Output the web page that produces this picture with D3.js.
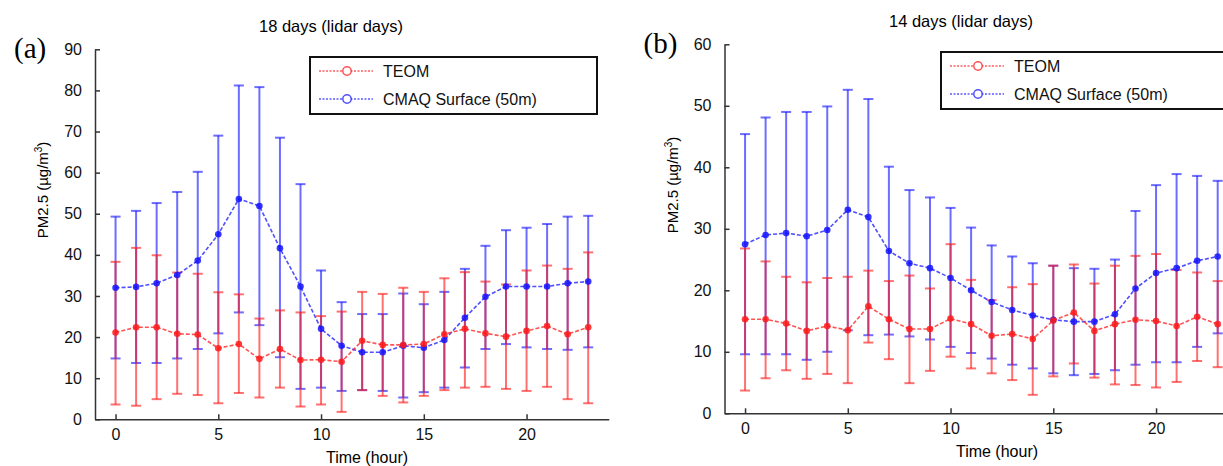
<!DOCTYPE html>
<html>
<head>
<meta charset="utf-8">
<script src="https://cdn.jsdelivr.net/npm/d3@7"></script>
<style>
  body { margin: 0; background: #fff; }
  svg { display: block; font-family: "Liberation Sans", Arial, sans-serif; }
</style>
</head>
<body>
<svg id="chart" width="1223" height="466"></svg>
<script>
// hours of the day
var hours = d3.range(0, 24);

// panel (a): 18 lidar days
var teomA      = [21.1, 22.4, 22.4, 20.8, 20.6, 17.3, 18.3, 14.7, 17.1, 14.4, 14.5, 14.0, 19.1, 18.1, 18.1, 18.3, 20.7, 22.0, 20.9, 20.1, 21.5, 22.7, 20.7, 22.4];
var teomAHigh  = [38.3, 41.7, 39.9, 35.7, 35.4, 30.9, 30.4, 24.5, 26.5, 26.0, 25.1, 26.2, 31.0, 30.5, 32.0, 31.0, 34.3, 35.8, 33.5, 32.8, 36.2, 37.4, 36.6, 40.6];
var teomALow   = [3.6, 3.3, 4.9, 6.2, 5.9, 3.9, 6.4, 5.3, 7.7, 3.1, 3.6, 1.8, 7.1, 5.7, 4.1, 5.7, 7.1, 7.7, 7.9, 7.4, 6.9, 7.9, 4.9, 3.9];
var cmaqA      = [32.0, 32.2, 33.1, 35.1, 38.6, 45.0, 53.6, 51.9, 41.6, 32.3, 22.0, 17.9, 16.3, 16.3, 17.9, 17.4, 19.3, 24.7, 29.8, 32.3, 32.3, 32.3, 33.1, 33.5];
var cmaqAHigh  = [49.3, 50.7, 52.6, 55.3, 60.2, 69.0, 81.2, 80.8, 68.5, 57.2, 36.2, 28.5, 25.6, 25.6, 30.6, 28.0, 31.0, 36.6, 42.2, 46.0, 46.6, 47.5, 49.3, 49.5];
var cmaqALow   = [14.8, 13.7, 13.7, 14.8, 17.1, 20.9, 26.0, 22.9, 15.1, 7.4, 7.7, 6.9, 7.1, 6.9, 5.3, 6.6, 7.7, 12.6, 17.1, 18.3, 17.5, 17.1, 16.9, 17.5];

// panel (b): 14 lidar days
var teomB      = [15.3, 15.3, 14.6, 13.4, 14.2, 13.5, 17.4, 15.3, 13.7, 13.7, 15.4, 14.5, 12.6, 12.9, 12.1, 15.1, 16.4, 13.4, 14.5, 15.2, 15.0, 14.2, 15.7, 14.5];
var teomBHigh  = [26.8, 24.7, 22.2, 21.3, 22.0, 22.2, 23.2, 21.5, 22.4, 20.3, 27.5, 21.7, 18.4, 20.5, 21.0, 24.0, 24.2, 21.1, 24.0, 25.6, 25.9, 23.3, 22.9, 21.5];
var teomBLow   = [3.7, 5.7, 7.0, 5.6, 6.4, 4.9, 11.5, 8.8, 4.9, 6.9, 9.2, 7.3, 6.5, 5.4, 3.0, 6.0, 8.1, 5.8, 4.7, 4.6, 4.2, 5.1, 8.5, 7.5];
var cmaqB      = [27.5, 29.0, 29.3, 28.8, 29.8, 33.1, 31.9, 26.4, 24.4, 23.6, 22.0, 20.0, 18.1, 16.8, 15.9, 15.2, 14.9, 14.9, 16.1, 20.3, 22.8, 23.6, 24.8, 25.5];
var cmaqBHigh  = [45.4, 48.1, 49.0, 49.0, 49.9, 52.6, 51.1, 40.1, 36.3, 35.1, 33.4, 30.2, 27.3, 25.5, 24.4, 24.0, 23.6, 23.5, 25.0, 32.9, 37.1, 38.9, 38.6, 37.8];
var cmaqBLow   = [9.6, 9.6, 9.6, 8.7, 10.0, 13.5, 12.7, 12.8, 12.5, 12.0, 10.8, 9.8, 8.9, 7.9, 7.3, 6.5, 6.2, 6.4, 7.0, 7.9, 8.3, 8.3, 10.8, 13.0];

var seriesNames = ["TEOM", "CMAQ Surface (50m)"];
var xTicks = [0, 5, 10, 15, 20];

var red = "#ff1a1a", blue = "#1414ff";
var svg = d3.select("#chart");

function drawPanel(p) {
  var x = d3.scaleLinear().domain([-1, 24]).range([p.left, p.left + 25 * 20.55]);
  var y = d3.scaleLinear().domain([0, p.yMax]).range([p.bottom, p.top]);
  var g = svg.append("g");

  // error bars, blue then red
  var series = [
    {mean: p.cmaq, hi: p.cmaqHigh, lo: p.cmaqLow, color: blue},
    {mean: p.teom, hi: p.teomHigh, lo: p.teomLow, color: red}
  ];
  series.forEach(function(s) {
    var eb = g.append("g")
      .attr("stroke", s.color)
      .attr("stroke-width", 2)
      .attr("stroke-opacity", 0.62);
    hours.forEach(function(h, i) {
      var cx = x(h);
      eb.append("line").attr("x1", cx).attr("x2", cx).attr("y1", y(s.lo[i])).attr("y2", y(s.hi[i]));
      eb.append("line").attr("x1", cx - 5).attr("x2", cx + 5).attr("y1", y(s.hi[i])).attr("y2", y(s.hi[i]));
      eb.append("line").attr("x1", cx - 5).attr("x2", cx + 5).attr("y1", y(s.lo[i])).attr("y2", y(s.lo[i]));
    });
  });

  // mean lines
  var line = d3.line().x(function(d, i) { return x(hours[i]); }).y(function(d) { return y(d); });
  series.forEach(function(s) {
    g.append("path")
      .datum(s.mean)
      .attr("d", line)
      .attr("fill", "none")
      .attr("stroke", s.color)
      .attr("stroke-width", 1.6)
      .attr("stroke-opacity", 0.75)
      .attr("stroke-dasharray", "4,2");
    g.selectAll(null)
      .data(s.mean)
      .enter().append("circle")
      .attr("cx", function(d, i) { return x(hours[i]); })
      .attr("cy", function(d) { return y(d); })
      .attr("r", 3.3)
      .attr("fill", s.color)
      .attr("fill-opacity", 0.85);
  });

  // axes
  var ax = g.append("g")
    .attr("transform", "translate(0," + p.bottom + ")")
    .call(d3.axisBottom(x).tickValues(xTicks).tickSize(-5).tickSizeOuter(0).tickPadding(9));
  var ay = g.append("g")
    .attr("transform", "translate(" + p.left + ",0)")
    .call(d3.axisLeft(y).tickValues(d3.range(0, p.yMax + 1, 10)).tickSize(-5).tickSizeOuter(0).tickPadding(13));
  [ax, ay].forEach(function(a) {
    a.selectAll("path, line").attr("stroke", "#333").attr("stroke-width", 1.5);
    a.selectAll("text").attr("fill", "#111").style("font-size", "16px");
  });

  // texts
  g.append("text")
    .attr("x", p.titleX).attr("y", p.titleY)
    .attr("text-anchor", "middle")
    .style("font-size", "16.5px")
    .text(p.title);
  g.append("text")
    .attr("x", p.left - 81).attr("y", p.top + 9)
    .style("font-family", "'Liberation Serif', 'DejaVu Serif', serif")
    .style("font-size", "29px")
    .text(p.label);
  g.append("text")
    .attr("x", p.xLabelX).attr("y", p.xLabelY)
    .attr("text-anchor", "middle")
    .style("font-size", "16px")
    .text("Time (hour)");
  var yl = g.append("text")
    .attr("transform", "translate(" + (p.left - 47) + "," + p.yLabelY + ") rotate(-90)")
    .attr("text-anchor", "middle")
    .style("font-size", "15px");
  yl.append("tspan").text("PM2.5 (\u00b5g/m");
  yl.append("tspan").attr("dy", -6).style("font-size", "10px").text("3");
  yl.append("tspan").attr("dy", 6).text(")");

  // legend
  var lg = g.append("g").attr("transform", "translate(" + p.legX + "," + p.legY + ")");
  lg.append("rect")
    .attr("width", p.legW).attr("height", 57)
    .attr("fill", "#fff").attr("stroke", "#111").attr("stroke-width", 2);
  [red, blue].forEach(function(c, i) {
    var ly = 14 + i * 28;
    lg.append("line").attr("x1", 9).attr("x2", 63).attr("y1", ly).attr("y2", ly)
      .attr("stroke", c).attr("stroke-opacity", 0.7).attr("stroke-width", 1.3).attr("stroke-dasharray", "2,1.5");
    lg.append("circle").attr("cx", 37).attr("cy", ly).attr("r", 4.2)
      .attr("fill", "#fff").attr("stroke", c).attr("stroke-opacity", 0.75).attr("stroke-width", 1.5);
    lg.append("text").attr("x", 73).attr("y", ly + 6)
      .style("font-size", "16px").attr("fill", "#111").text(seriesNames[i]);
  });
}

drawPanel({
  left: 95, top: 49.3, bottom: 419.3, yMax: 90,
  teom: teomA, teomHigh: teomAHigh, teomLow: teomALow,
  cmaq: cmaqA, cmaqHigh: cmaqAHigh, cmaqLow: cmaqALow,
  title: "18 days (lidar days)", titleX: 331, titleY: 32,
  label: "(a)", xLabelX: 367, xLabelY: 463, yLabelY: 190,
  legX: 310, legY: 57, legW: 287
});

drawPanel({
  left: 724.5, top: 44.3, bottom: 413.3, yMax: 60,
  teom: teomB, teomHigh: teomBHigh, teomLow: teomBLow,
  cmaq: cmaqB, cmaqHigh: cmaqBHigh, cmaqLow: cmaqBLow,
  title: "14 days (lidar days)", titleX: 961, titleY: 27,
  label: "(b)", xLabelX: 997, xLabelY: 457, yLabelY: 185,
  legX: 941, legY: 52, legW: 300
});
</script>
</body>
</html>
